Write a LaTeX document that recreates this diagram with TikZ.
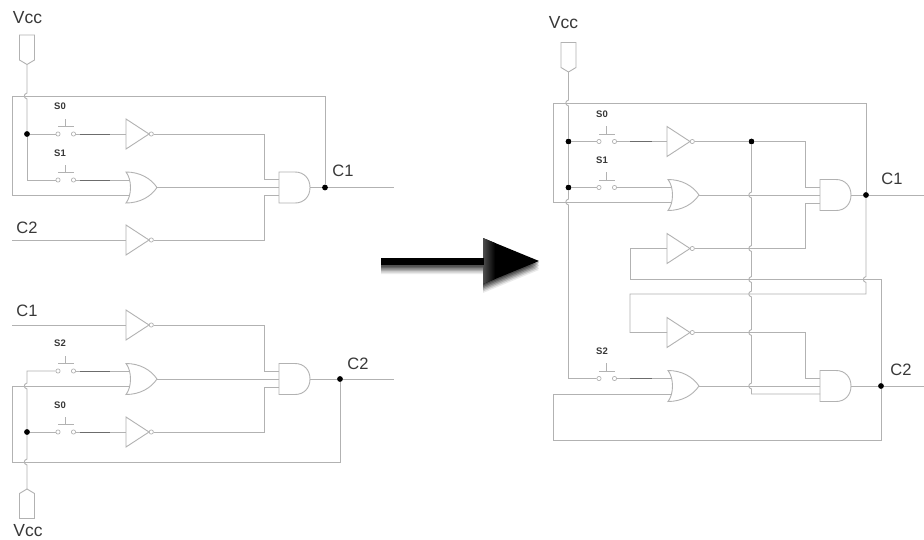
\documentclass[tikz,border=0pt]{standalone}
\usepackage{fontspec}
\setmainfont{Liberation Sans}
\usetikzlibrary{calc}
\definecolor{wirecol}{gray}{0.70}
\definecolor{labelcol}{gray}{0.22}
\tikzset{
  wire/.style={draw=wirecol,line width=0.9pt,line join=miter},
  darkwire/.style={draw=gray!85!black,line width=0.9pt},
  dotj/.style={circle,fill=black,inner sep=0pt,minimum size=5.8pt},
  term/.style={circle,draw=wirecol,fill=white,line width=0.7pt,inner sep=0pt,minimum size=4.2pt},
  biglabel/.style={text=labelcol,font=\fontsize{16.5}{16.5}\selectfont,inner sep=0pt},
  vcclabel/.style={text=labelcol,font=\fontsize{17.5}{17.5}\selectfont,inner sep=0pt},
  smalllabel/.style={text=labelcol,font=\fontsize{9.5}{9.5}\selectfont\bfseries,inner sep=0pt},
  hop/.style={to path={.. controls ($(\tikztostart)+(-3.6,1)$) and ($(\tikztotarget)+(-3.6,-1)$) .. (\tikztotarget)}}
}
\newcommand{\notg}[3]{%
  \draw[wire] (#2,#3-15) -- (#2,#3+15) -- (#2+23,#3) -- cycle;
  \coordinate (#1-i) at (#2,#3);
  \node[term] (#1-o) at (#2+25.3,#3) {};
}
\newcommand{\org}[5]{%
  \draw[wire] (#2,#3-15.5) .. controls (#2+6,#3-8) and (#2+6,#3+8) .. (#2,#3+15.5)
    .. controls (#2+14,#3+15.5) and (#2+25,#3+9) .. (#2+31,#3)
    .. controls (#2+25,#3-9) and (#2+14,#3-15.5) .. cycle;
  \coordinate (#1-a) at (#2+4,#4);
  \coordinate (#1-c) at (#2+4,#5);
  \coordinate (#1-o) at (#2+31,#3);
}
\newcommand{\andg}[3]{%
  \draw[wire] (#2+16,#3-15.5) -- (#2,#3-15.5) -- (#2,#3+15.5) -- (#2+16,#3+15.5)
    .. controls (#2+25,#3+15.5) and (#2+31,#3+9) .. (#2+31,#3)
    .. controls (#2+31,#3-9) and (#2+25,#3-15.5) .. (#2+16,#3-15.5);
  \coordinate (#1-a) at (#2,#3-8);
  \coordinate (#1-b) at (#2,#3);
  \coordinate (#1-c) at (#2,#3+8);
  \coordinate (#1-o) at (#2+31,#3);
}
\newcommand{\swt}[3]{%
  \node[term] (#1-a) at (#2,#3) {};
  \node[term] (#1-b) at (#2+15.5,#3) {};
  \draw[wire] (#2,#3-7.5) -- (#2+15.5,#3-7.5) (#2+7.7,#3-7.5) -- (#2+7.7,#3-15.5);
}
\newcommand{\pindown}[3]{%
  \draw[wire] (#2-7.5,#3) -- (#2+7.5,#3) -- (#2+7.5,#3+25) -- (#2,#3+29.5) -- (#2-7.5,#3+25) -- cycle;
  \coordinate (#1) at (#2,#3+29.5);
}
\newcommand{\pinup}[3]{%
  \draw[wire] (#2-7.5,#3) -- (#2+7.5,#3) -- (#2+7.5,#3-25) -- (#2,#3-29.5) -- (#2-7.5,#3-25) -- cycle;
  \coordinate (#1) at (#2,#3-29.5);
}
\begin{document}
\begin{tikzpicture}[x=1pt,y=-1pt]
\useasboundingbox (0,0) rectangle (924,539);
\fill[white] (0,0) rectangle (924,539);

%% ---------- top left circuit
\node[vcclabel] (tlv) at (27.5,18) {Vcc};
\pindown{tlp}{27}{35}
\node[smalllabel] at (60,106) {S0};
\node[smalllabel] at (60,153) {S1};
\node[biglabel] (tlc1) at (343,171) {C1};
\node[biglabel] (tlc2) at (27,228) {C2};
\node[dotj] (tlj) at (27,134) {};
\node[dotj] (tlo) at (325,187.5) {};
\swt{tls0}{58}{134}
\swt{tls1}{58}{180}
\notg{tln1}{126}{134}
\org{tlor}{126}{187.5}{180}{195}
\andg{tlan}{279}{187.5}
\notg{tln2}{126}{240}
\draw[wire] (tlp) -- (27,93) to[hop] (27,99) -- (tlj);
\draw[wire] (tlj) -- (27,180) -- (tls1-a);
\draw[wire] (tlj) -- (tls0-a);
\draw[wire] (tls0-b) -- (tln1-i);
\draw[wire] (tls1-b) -- (tlor-a);
\draw[darkwire] (80,134) -- (110,134) (80,180) -- (110,180);
\draw[wire] (tln1-o) -| (264,179.5) -- (tlan-a);
\draw[wire] (tlor-o) -- (tlan-b);
\draw[wire] (tln2-o) -| (264,195.5) -- (tlan-c);
\draw[wire] (12,240) -- (tln2-i);
\draw[wire] (tlan-o) -- (tlo) -- (394,187.5);
\draw[wire] (tlo) -- (325,96) -- (12,96) -- (12,195) -- (tlor-c);

%% ---------- bottom left circuit
\node[biglabel] (blc1) at (27,311) {C1};
\node[biglabel] (blc2) at (358,364) {C2};
\node[smalllabel] at (60,343) {S2};
\node[smalllabel] at (60,405) {S0};
\node[dotj] (blj) at (27,432) {};
\node[dotj] (blo) at (340,379) {};
\swt{bls2}{58}{371}
\swt{bls0}{58}{432}
\notg{bln1}{126}{325}
\org{blor}{126}{379}{371}{386}
\andg{blan}{279}{379}
\notg{bln2}{126}{432}
\pinup{blp}{27}{518.5}
\node[vcclabel] (blv) at (28,530.5) {Vcc};
\draw[wire] (12,325) -- (bln1-i);
\draw[wire] (bln1-o) -| (264,371) -- (blan-a);
\draw[wire] (bls2-a) -- (27,371) -- (27,383) to[hop] (27,389) -- (blj);
\draw[wire] (blj) -- (27,459) to[hop] (27,465) -- (blp);
\draw[wire] (blj) -- (bls0-a);
\draw[wire] (bls2-b) -- (blor-a);
\draw[wire] (bls0-b) -- (bln2-i);
\draw[darkwire] (80,371) -- (110,371) (80,432) -- (110,432);
\draw[wire] (blor-o) -- (blan-b);
\draw[wire] (bln2-o) -| (264,387) -- (blan-c);
\draw[wire] (blan-o) -- (blo) -- (394,379);
\draw[wire] (blo) -- (340,462) -- (12,462) -- (12,386) -- (blor-c);

%% ---------- big arrow
\foreach \g/\o in {9/0.08,7.5/0.12,6/0.16,4.5/0.20,3/0.24,1.5/0.28}{
  \fill[black,opacity=\o] (381,257+\g) -- (483,257+\g) -- (483,238+\g) -- (539,261+\g) -- (483,284+\g) -- (483,265+\g) -- (381,265+\g) -- cycle;
}
\fill[black] (483,238) -- (539,261) -- (483,284) -- cycle;
\shade[left color=gray!60!black,right color=black] (483,238) -- (495,243) -- (495,279) -- (483,284) -- cycle;
\fill[black] (381,257.5) rectangle (484,265);

%% ---------- right circuit
\node[vcclabel] (rv) at (563.5,23) {Vcc};
\pindown{rp}{568.5}{42.5}
\node[smalllabel] at (602,114) {S0};
\node[smalllabel] at (602,160) {S1};
\node[smalllabel] at (602,351) {S2};
\node[biglabel] (rc1) at (892,179) {C1};
\node[biglabel] (rc2) at (901,370) {C2};
\node[dotj] (rj1) at (568.5,141.5) {};
\node[dotj] (rj2) at (568.5,187.5) {};
\node[dotj] (rj3) at (751.5,141.5) {};
\node[dotj] (ro1) at (866,195) {};
\node[dotj] (ro2) at (881,386) {};
\swt{rs0}{599}{141.5}
\swt{rs1}{599}{187.5}
\swt{rs2}{599}{378.5}
\notg{rn1}{667}{141.5}
\notg{rn2}{667}{248.5}
\notg{rn3}{667}{332.5}
\org{ror1}{668}{195}{187.5}{202.5}
\org{ror2}{668}{386}{378.5}{394}
\andg{ra1}{820}{195}
\andg{ra2}{820}{386}
% Vcc rail
\draw[wire] (rp) -- (568.5,100) to[hop] (568.5,106) -- (rj1);
\draw[wire] (rj1) -- (rj2);
\draw[wire] (rj2) -- (568.5,199) to[hop] (568.5,205) -- (568.5,378.5) -- (rs2-a);
\draw[wire] (rj1) -- (rs0-a);
\draw[wire] (rj2) -- (rs1-a);
\draw[wire] (rs0-b) -- (rn1-i);
\draw[wire] (rs1-b) -- (ror1-a);
\draw[wire] (rs2-b) -- (ror2-a);
\draw[darkwire] (630,141.5) -- (652,141.5) (630,378.5) -- (652,378.5);
% C1 feedback
\draw[wire] (ro1) -- (866,103) -- (553,103) -- (553,202.5) -- (ror1-c);
\draw[wire] (ro1) -- (866,276.5) to[hop] (866,282.5) -- (866,294) -- (630,294) -- (630,332.5) -- (rn3-i);
% C2 feedback
\draw[wire] (ro2) -- (881,279.5) -- (630,279.5) -- (630,248.5) -- (rn2-i);
\draw[wire] (ro2) -- (881,440) -- (553,440) -- (553,394) -- (ror2-c);
% gate outputs
\draw[wire] (rn1-o) -- (rj3) -- (805,141.5) -- (805,187) -- (ra1-a);
\draw[wire] (ror1-o) -- (ra1-b);
\draw[wire] (rn2-o) -- (805,248.5) -- (805,203) -- (ra1-c);
\draw[wire] (ra1-o) -- (ro1) -- (924,195);
\draw[wire] (rn3-o) -- (805,332.5) -- (805,378) -- (ra2-a);
\draw[wire] (ror2-o) -- (ra2-b);
\draw[wire] (ra2-o) -- (ro2) -- (924,386);
% S0 bus with hops
\draw[wire] (rj3) -- (751.5,192) to[hop] (751.5,198) -- (751.5,245.5) to[hop] (751.5,251.5)
  -- (751.5,276.5) to[hop] (751.5,282.5) -- (751.5,291) to[hop] (751.5,297)
  -- (751.5,329.5) to[hop] (751.5,335.5) -- (751.5,383) to[hop] (751.5,389)
  -- (751.5,394) -- (ra2-c);
\end{tikzpicture}
\end{document}
